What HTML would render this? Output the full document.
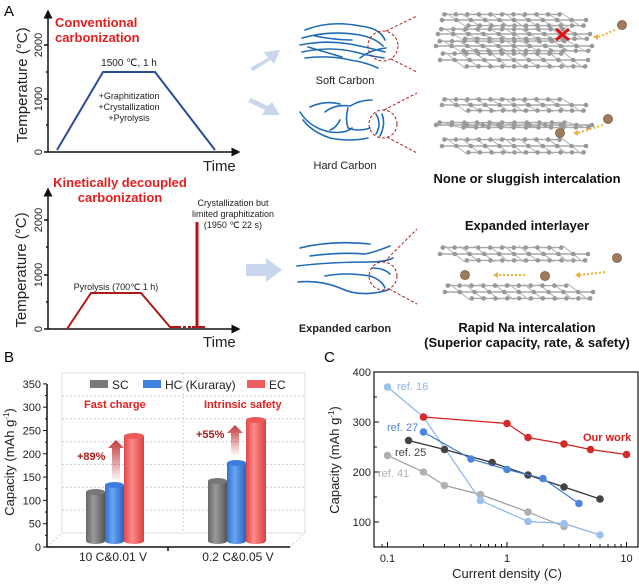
<!DOCTYPE html>
<html><head><meta charset="utf-8"><style>
html,body{margin:0;padding:0;background:#fff;}
svg{display:block;font-family:"Liberation Sans",Arial,sans-serif;}
</style></head><body>
<svg id="s" width="639" height="584" viewBox="0 0 639 584" xmlns="http://www.w3.org/2000/svg">
<defs>
<linearGradient id="ga" x1="0" y1="1" x2="0" y2="0"><stop offset="0" stop-color="#b22" stop-opacity="0"/><stop offset="1" stop-color="#b22" stop-opacity="0.9"/></linearGradient>
<linearGradient id="gg" x1="0" x2="1"><stop offset="0" stop-color="#666"/><stop offset="0.4" stop-color="#9a9a9a"/><stop offset="1" stop-color="#555"/></linearGradient>
<linearGradient id="gb" x1="0" x2="1"><stop offset="0" stop-color="#2f6fd0"/><stop offset="0.4" stop-color="#6aa6f2"/><stop offset="1" stop-color="#2a62c0"/></linearGradient>
<linearGradient id="gr" x1="0" x2="1"><stop offset="0" stop-color="#e04848"/><stop offset="0.4" stop-color="#ff8a8a"/><stop offset="1" stop-color="#d84040"/></linearGradient>
<marker id="ar" markerWidth="6" markerHeight="6" refX="3" refY="3" orient="auto"><path d="M0,0L6,3L0,6z" fill="#111"/></marker>
</defs>
<text x="4" y="16" font-size="15">A</text>
<g stroke="#111" stroke-width="1.5" fill="none">
<line x1="48" y1="152" x2="48" y2="14" marker-end="url(#ar)"/>
<line x1="48" y1="152" x2="236" y2="152" marker-end="url(#ar)"/>
<line x1="48" y1="329" x2="48" y2="192" marker-end="url(#ar)"/>
<line x1="48" y1="329" x2="236" y2="329" marker-end="url(#ar)"/>
<line x1="44" y1="45" x2="48" y2="45"/><line x1="44" y1="99" x2="48" y2="99"/><line x1="44" y1="152" x2="48" y2="152"/>
<line x1="46" y1="72" x2="48" y2="72"/><line x1="46" y1="125" x2="48" y2="125"/><line x1="46" y1="18" x2="48" y2="18"/>
<line x1="44" y1="220" x2="48" y2="220"/><line x1="44" y1="275" x2="48" y2="275"/><line x1="44" y1="329" x2="48" y2="329"/>
<line x1="46" y1="247" x2="48" y2="247"/><line x1="46" y1="302" x2="48" y2="302"/><line x1="46" y1="193" x2="48" y2="193"/>
</g>
<g font-size="11" fill="#222">
<text transform="translate(42,45) rotate(-90)" text-anchor="middle">2000</text>
<text transform="translate(42,99) rotate(-90)" text-anchor="middle">1000</text>
<text transform="translate(42,152) rotate(-90)" text-anchor="middle">0</text>
<text transform="translate(42,220) rotate(-90)" text-anchor="middle">2000</text>
<text transform="translate(42,275) rotate(-90)" text-anchor="middle">1000</text>
<text transform="translate(42,329) rotate(-90)" text-anchor="middle">0</text>
</g>
<text transform="translate(27,85) rotate(-90)" text-anchor="middle" font-size="15" fill="#222">Temperature (°C)</text>
<text transform="translate(26,270) rotate(-90)" text-anchor="middle" font-size="15" fill="#222">Temperature (°C)</text>
<text x="203" y="171" font-size="15" fill="#222">Time</text>
<text x="203" y="347" font-size="15" fill="#222">Time</text>
<text x="55" y="27" font-size="13" font-weight="bold" fill="#e02020">Conventional</text>
<text x="55" y="42" font-size="13" font-weight="bold" fill="#e02020">carbonization</text>
<polyline points="57,150 103,72 155,72 215,150" fill="none" stroke="#2a4a9a" stroke-width="2"/>
<text x="129" y="66" font-size="10" text-anchor="middle" fill="#222">1500 ℃, 1 h</text>
<text x="129" y="99" font-size="9" text-anchor="middle" fill="#222">+Graphitization</text>
<text x="129" y="110" font-size="9" text-anchor="middle" fill="#222">+Crystallization</text>
<text x="129" y="121" font-size="9" text-anchor="middle" fill="#222">+Pyrolysis</text>
<text x="120" y="187" font-size="13" font-weight="bold" fill="#e02020" text-anchor="middle">Kinetically decoupled</text>
<text x="120" y="202" font-size="13" font-weight="bold" fill="#e02020" text-anchor="middle">carbonization</text>
<polyline points="67,329 91,293 141,293 170,327 178,327" fill="none" stroke="#b01818" stroke-width="2"/>
<line x1="178" y1="327" x2="192" y2="327" stroke="#b01818" stroke-width="2" stroke-dasharray="3,2"/>
<line x1="192" y1="327" x2="205" y2="327" stroke="#b01818" stroke-width="2"/>
<line x1="197" y1="328" x2="197" y2="222" stroke="#b01818" stroke-width="3"/>
<text x="233" y="206" font-size="9" text-anchor="middle" fill="#222">Crystallization but</text>
<text x="233" y="217" font-size="9" text-anchor="middle" fill="#222">limited graphitization</text>
<text x="233" y="228" font-size="9" text-anchor="middle" fill="#222">(1950 ℃ 22 s)</text>
<text x="116" y="290" font-size="9" text-anchor="middle" fill="#222">Pyrolysis (700℃ 1 h)</text>
<g fill="#c9d6ec">
<path d="M250,68 L268,58 L264,52 L280,50 L274,64 L271,60 L253,71z"/>
<path d="M248,102 L265,110 L262,115 L280,115 L272,102 L268,106 L251,98z"/>
<path d="M246,264 L266,264 L266,258 L282,270 L266,282 L266,276 L246,276z"/>
</g>
<g fill="none" stroke="#1f6bb5" stroke-width="1.6" stroke-linecap="round">
<path d="M305,30 Q330,20 360,26 Q380,28 385,40"/><path d="M302,38 Q330,30 360,35 Q375,38 383,46"/>
<path d="M300,45 Q325,40 350,44 Q370,48 385,52"/><path d="M302,52 Q330,46 355,52 Q370,56 384,58"/>
<path d="M305,58 Q330,55 350,60 Q365,62 378,68"/><path d="M308,47 Q325,52 342,57"/><path d="M315,36 Q335,40 352,40"/>
<path d="M360,58 Q370,50 386,48"/>
<path d="M300,112 Q310,128 330,132 Q345,134 352,128"/><path d="M310,107 Q325,100 340,104"/><path d="M325,112 Q335,104 350,106 Q360,100 372,100"/>
<path d="M348,108 Q345,118 348,128 Q358,132 370,128"/><path d="M303,120 Q312,132 330,138 Q350,142 368,138"/>
<path d="M382,114 Q386,124 380,136"/><path d="M376,114 Q382,124 376,134"/><path d="M340,120 Q336,128 330,130"/>
<path d="M300,248 Q330,240 370,244"/><path d="M310,256 Q340,252 365,254 Q375,252 390,246"/><path d="M297,266 Q330,262 370,262 Q385,262 393,258"/>
<path d="M325,276 Q345,272 370,276 Q382,280 385,288"/><path d="M298,282 Q320,280 340,288 Q360,298 388,290"/><path d="M372,268 Q384,268 390,274"/>
</g>
<g fill="none" stroke="#b02020" stroke-width="1" stroke-dasharray="3,2">
<circle cx="383" cy="46" r="15"/><line x1="386" y1="31" x2="417" y2="16"/><line x1="391" y1="59" x2="417" y2="72"/>
<circle cx="383" cy="124" r="14"/><line x1="384" y1="110" x2="417" y2="93"/><line x1="387" y1="137" x2="417" y2="153"/>
<circle cx="383" cy="276" r="14"/><line x1="384" y1="262" x2="417" y2="229"/><line x1="389" y1="289" x2="417" y2="304"/>
</g>
<g font-size="11" fill="#222" text-anchor="middle">
<text x="345" y="84">Soft Carbon</text><text x="345" y="169">Hard Carbon</text>
<text x="345" y="332" font-weight="bold">Expanded carbon</text>
</g>
<g font-size="13" font-weight="bold" fill="#111" text-anchor="middle">
<text x="527" y="183">None or sluggish intercalation</text>
<text x="527" y="230">Expanded interlayer</text>
<text x="527" y="332">Rapid Na intercalation</text>
<text x="527" y="347">(Superior capacity, rate, &amp; safety)</text>
</g>
<g id="gph"></g>
<g id="extra"></g>
<text x="4" y="362" font-size="15">B</text>
<g id="pb"></g>
<text x="324" y="362" font-size="15">C</text>
<g id="pc"></g>
</svg>
<script>
var NS="http://www.w3.org/2000/svg";
function el(p,t,a){var e=document.createElementNS(NS,t);for(var k in a)e.setAttribute(k,a[k]);p.appendChild(e);return e;}
var g=document.getElementById('gph');
function layer(cx,cy,w,h){
 for(var i=-2;i<=2;i+=2){var dy=i*h/2.5, ww=w*(1-Math.abs(i)*0.1);
  el(g,'line',{x1:cx-ww+i*6,y1:cy+dy,x2:cx+ww+i*6,y2:cy+dy,stroke:'#a8a8a8','stroke-width':1.4});}
 for(var j=-4;j<=4;j++){el(g,'line',{x1:cx+j*w/5-10,y1:cy-h,x2:cx+j*w/5+10,y2:cy+h,stroke:'#b0b0b0','stroke-width':1});}
 for(var i=-2;i<=2;i+=2)for(var j=-5;j<=5;j++){var ww=w*(1-Math.abs(i)*0.1);var x=cx+j*ww/5+i*6,y=cy+i*h/2.5;
  el(g,'circle',{cx:x,cy:y,r:2.3,fill:'#999'});}
}
layer(514,20,72,7);layer(514,34,76,6);layer(514,46,78,6);layer(514,60,74,8);
layer(514,105,72,7);layer(514,125,78,3);layer(514,146,72,8);
layer(514,254,74,8);layer(519,292,74,8);
var ex=document.getElementById('extra');
function na(x,y){el(ex,'circle',{cx:x,cy:y,r:4.5,fill:'#a07a5a',stroke:'#7a5a40','stroke-width':0.8});}
na(622,25);na(608,119);na(560,133);na(617,258);na(465,275);na(545,276);
function dash(x1,y1,x2,y2){el(ex,'path',{d:'M'+x1+','+y1+' L'+x2+','+y2,stroke:'#f0b030','stroke-width':2,'stroke-dasharray':'2,2',fill:'none'});
 el(ex,'path',{d:'M'+x2+','+(y2-3)+' L'+(x2-5)+','+y2+' L'+x2+','+(y2+3)+'z',fill:'#f0b030'});}
dash(615,30,598,37);dash(603,125,578,133);dash(605,272,580,275);dash(525,275,498,275);
el(ex,'path',{d:'M556,29 L569,40 M569,29 L556,40',stroke:'#e01010','stroke-width':3});

var pb=document.getElementById('pb');
el(pb,'path',{d:'M62,373 L305,373 L305,533 L62,533z',fill:'none',stroke:'#ddd','stroke-width':1});
el(pb,'path',{d:'M47,547 L62,533 M290,547 L305,533',stroke:'#ccc','stroke-width':1,'stroke-dasharray':'2,2',fill:'none'});
el(pb,'line',{x1:183,y1:373,x2:183,y2:533,stroke:'#ccc','stroke-dasharray':'2,2'});
for(var v=50;v<=300;v+=50){var y=533-v*160/350;el(pb,'line',{x1:62,y1:y,x2:305,y2:y,stroke:'#ccc','stroke-dasharray':'2,2'});}
el(pb,'path',{d:'M47,384 L47,547 L290,547',stroke:'#111','stroke-width':1.5,fill:'none'});
el(pb,'line',{x1:168,y1:547,x2:168,y2:551,stroke:'#111','stroke-width':1.5});
for(var v=0;v<=350;v+=50){var y=547-v*0.466;el(pb,'line',{x1:43,y1:y,x2:47,y2:y,stroke:'#111'});
 var t=el(pb,'text',{x:41,y:y+4,'font-size':11,'text-anchor':'end',fill:'#222'});t.textContent=v;
 if(v<350){el(pb,'line',{x1:45,y1:y-11.65,x2:47,y2:y-11.65,stroke:'#111'});}}
var t=el(pb,'text',{transform:'translate(14,462) rotate(-90)','font-size':13,'text-anchor':'middle',fill:'#222'});t.innerHTML='Capacity (mAh g<tspan font-size="8" dy="-5">-1</tspan><tspan dy="5">)</tspan>';
function bar(x,w,top,grad,c){var bot=541;
 el(pb,'path',{d:'M'+x+','+top+' L'+x+','+bot+' A'+(w/2)+',3 0 0 0 '+(x+w)+','+bot+' L'+(x+w)+','+top+'z',fill:'url(#'+grad+')'});
 el(pb,'ellipse',{cx:x+w/2,cy:top,rx:w/2,ry:3,fill:c});}
bar(86,19,492,'gg','#777');bar(105,19,485,'gb','#3d7ddc');bar(124,20,436,'gr','#e85a5a');
bar(208,19,481,'gg','#777');bar(227,19,463,'gb','#3d7ddc');bar(246,20,420,'gr','#e85a5a');
el(pb,'rect',{x:90,y:380,width:18,height:8,fill:'#7a7a7a'});el(pb,'rect',{x:143,y:380,width:18,height:8,fill:'#3f82e0'});el(pb,'rect',{x:247,y:380,width:18,height:8,fill:'#ee5c5c'});
[[112,'SC'],[165,'HC (Kuraray)'],[269,'EC']].forEach(function(a){var t=el(pb,'text',{x:a[0],y:389,'font-size':12,fill:'#222'});t.textContent=a[1];});
[[84,'Fast charge'],[204,'Intrinsic safety']].forEach(function(a){var t=el(pb,'text',{x:a[0],y:408,'font-size':11,'font-weight':'bold',fill:'#e02020'});t.textContent=a[1];});
[[77,460,'+89%'],[196,438,'+55%']].forEach(function(a){var t=el(pb,'text',{x:a[0],y:a[1],'font-size':11,'font-weight':'bold',fill:'#b01818'});t.textContent=a[2];});
el(pb,'path',{d:'M112,482 L112,448 L108,448 L116,440 L124,448 L120,448 L120,482z',fill:'url(#ga)'});
el(pb,'path',{d:'M231,456 L231,433 L227,433 L235,425 L243,433 L239,433 L239,456z',fill:'url(#ga)'});
[[113,'10 C&0.01 V'],[238,'0.2 C&0.05 V']].forEach(function(a){var t=el(pb,'text',{x:a[0],y:561,'font-size':12,'text-anchor':'middle',fill:'#222'});t.textContent=a[1];});

var pc=document.getElementById('pc');
function X(c){return 507+119.5*Math.log10(c);}function Y(v){return 572-0.5*v;}
el(pc,'rect',{x:374,y:372,width:264,height:175,fill:'none',stroke:'#111','stroke-width':1.2});
[0.1,1,10].forEach(function(c){el(pc,'line',{x1:X(c),y1:547,x2:X(c),y2:542,stroke:'#111'});var t=el(pc,'text',{x:X(c),y:562,'font-size':11,'text-anchor':'middle',fill:'#222'});t.textContent=c;});
[0.2,0.3,0.4,0.5,0.6,0.7,0.8,0.9,2,3,4,5,6,7,8,9].forEach(function(c){el(pc,'line',{x1:X(c),y1:547,x2:X(c),y2:544,stroke:'#111'});});
el(pc,'line',{x1:X(0.09),y1:547,x2:X(0.09),y2:544,stroke:'#111'});
for(var v=100;v<=400;v+=100){el(pc,'line',{x1:374,y1:Y(v),x2:379,y2:Y(v),stroke:'#111'});var t=el(pc,'text',{x:371,y:Y(v)+4,'font-size':11,'text-anchor':'end',fill:'#222'});t.textContent=v;}
for(var v=50;v<=350;v+=100)el(pc,'line',{x1:374,y1:Y(v),x2:377,y2:Y(v),stroke:'#111'});
var t=el(pc,'text',{transform:'translate(339,460) rotate(-90)','font-size':13,'text-anchor':'middle',fill:'#222'});t.innerHTML='Capacity (mAh g<tspan font-size="8" dy="-5">-1</tspan><tspan dy="5">)</tspan>';
t=el(pc,'text',{x:507,y:578,'font-size':13,'text-anchor':'middle',fill:'#222'});t.textContent='Current density (C)';
var S=[
['#9a9a9a','#b0b0b0',[[0.1,233],[0.2,200],[0.3,173],[0.6,155],[1.5,120],[3,91]]],
['#8ab4e8','#9cc0ee',[[0.1,370],[0.2,310],[0.6,143],[1.5,101],[3,97],[6,74]]],
['#333','#444',[[0.15,263],[0.3,245],[0.75,219],[1.5,194],[3,170],[6,146]]],
['#3a78d0','#4a86dc',[[0.2,280],[0.5,226],[1,205],[2,187],[4,137]]],
['#d42020','#d42a2a',[[0.2,310],[1,297],[1.5,269],[3,256],[5,245],[10,235]]]];
S.forEach(function(s){el(pc,'polyline',{points:s[2].map(function(p){return X(p[0])+','+Y(p[1]);}).join(' '),fill:'none',stroke:s[0],'stroke-width':1.2});
 s[2].forEach(function(p){el(pc,'circle',{cx:X(p[0]),cy:Y(p[1]),r:3.8,fill:s[1]});});});
[[397,390,'ref. 16','#8ab4e8'],[387,431,'ref. 27','#4a86dc'],[395,456,'ref. 25','#444'],[378,477,'ref. 41','#b0b0b0'],[583,441,'Our work','#d42020']].forEach(function(a){
 var t=el(pc,'text',{x:a[0],y:a[1],'font-size':11,fill:a[3],'font-weight':a[2]=='Our work'?'bold':'normal'});t.textContent=a[2];});
</script>
</body></html>
